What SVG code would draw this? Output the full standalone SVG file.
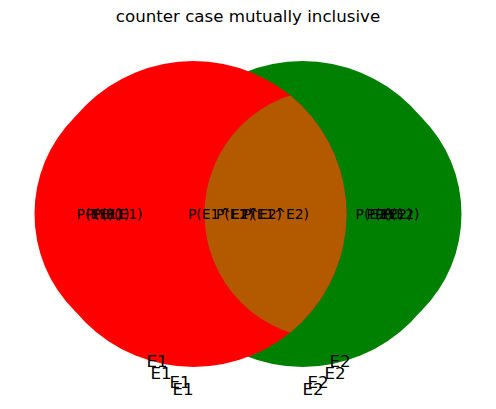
<svg xmlns="http://www.w3.org/2000/svg" width="496" height="409" viewBox="0 0 496 409">
<style>
.red{fill:#ff0000}
.green{fill:#008000}
.brown{fill:#b35900}
.t{font-family:"DejaVu Sans",sans-serif;fill:#000}
.sub{font-size:13.89px;text-anchor:middle}
.set{font-size:16.67px}
.title{font-size:16.67px;text-anchor:middle}
</style>
<defs>
<clipPath id="clipE1"><circle cx="193.5" cy="214" r="153"/></clipPath>
</defs>
<rect width="496" height="409" fill="#fff"/>
<text class="t title" x="248" y="22">counter case mutually inclusive</text>
<g id="set-E2" class="green">
<circle cx="302.5" cy="214" r="153"/>
<circle cx="307.5" cy="214" r="146"/>
<circle cx="324.5" cy="214" r="137"/>
<circle cx="329.5" cy="214" r="125"/>
</g>
<g id="set-E1" class="red">
<circle cx="193.5" cy="214" r="153"/>
<circle cx="190.5" cy="214" r="146"/>
<circle cx="171.5" cy="214" r="137"/>
<circle cx="167.5" cy="214" r="125"/>
</g>
<g id="intersection" class="brown">
<circle cx="329.5" cy="214" r="125" clip-path="url(#clipE1)"/>
</g>
<g id="subset-labels" class="t sub">
<text x="95" y="219">P(E1)</text>
<text x="104" y="219">P(E1)</text>
<text x="111" y="219">P(E1)</text>
<text x="124" y="219">P(E1)</text>
<text x="221" y="219">P(E1^E2)</text>
<text x="249" y="219">P(E1^E2)</text>
<text x="276" y="219">P(E1^E2)</text>
<text x="374" y="219">P(E2)</text>
<text x="385" y="219">P(E2)</text>
<text x="394" y="219">P(E2)</text>
<text x="401" y="219">P(E2)</text>
</g>
<g id="set-labels" class="t set">
<text x="167.5" y="367" text-anchor="end">E1</text>
<text x="171.5" y="379" text-anchor="end">E1</text>
<text x="190.5" y="388" text-anchor="end">E1</text>
<text x="193.5" y="395" text-anchor="end">E1</text>
<text x="329.5" y="367">E2</text>
<text x="324.5" y="379">E2</text>
<text x="307.5" y="388">E2</text>
<text x="302.5" y="395">E2</text>
</g>
</svg>
